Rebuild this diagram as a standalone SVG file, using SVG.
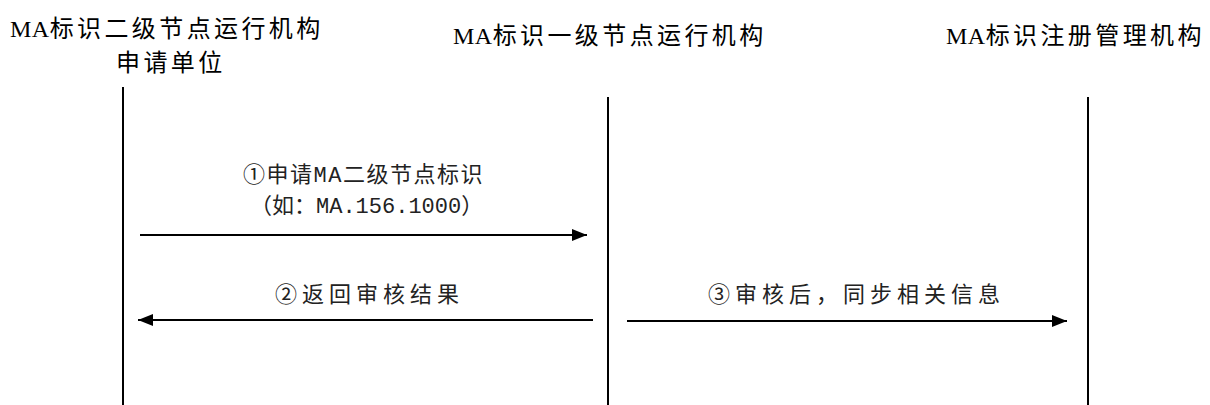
<svg xmlns="http://www.w3.org/2000/svg" width="1210" height="405" viewBox="0 0 1210 405">
  <style>
    .hdr { font-family: "Liberation Serif", "Noto Sans CJK SC", serif; font-size: 24px; letter-spacing: 3.4px; fill: #000; }
    .ma { letter-spacing: 0.5px; }
    .lbl { font-family: "Liberation Mono", "Noto Sans CJK SC", monospace; font-size: 22px; fill: #222; }
    .life { stroke: #000; stroke-width: 2; fill: none; }
    .msg { stroke: #000; stroke-width: 2; fill: none; marker-end: url(#arrow); }
  </style>
  <defs>
    <marker id="arrow" markerUnits="userSpaceOnUse" markerWidth="16" markerHeight="14" refX="15" refY="6" orient="auto">
      <path d="M0,0 L15,6 L0,12 z" fill="#000"/>
    </marker>
  </defs>
  <rect width="1210" height="405" fill="#fff"/>
  <g id="node-secondary">
    <text class="hdr" x="10" y="37"><tspan class="ma">MA</tspan>标识二级节点运行机构</text>
    <text class="hdr" x="116" y="71">申请单位</text>
    <line class="life" x1="123" y1="87" x2="123" y2="405"/>
  </g>
  <g id="node-primary">
    <text class="hdr" x="453" y="44"><tspan class="ma">MA</tspan>标识一级节点运行机构</text>
    <line class="life" x1="608" y1="97" x2="608" y2="405"/>
  </g>
  <g id="node-registry">
    <text class="hdr" x="946" y="44"><tspan class="ma">MA</tspan>标识注册管理机构</text>
    <line class="life" x1="1088" y1="97" x2="1088" y2="405"/>
  </g>
  <g id="connectors">
    <line class="msg" x1="140" y1="235" x2="587" y2="235"/>
    <line class="msg" x1="593" y1="320" x2="138" y2="320"/>
    <line class="msg" x1="627" y1="321" x2="1067" y2="321"/>
    <text class="lbl" x="243" y="182" style="letter-spacing:1.5px">①申请MA二级节点标识</text>
    <text class="lbl" x="250" y="213">（如：MA.156.1000）</text>
    <text class="lbl" x="275" y="302" style="letter-spacing:5px">②返回审核结果</text>
    <text class="lbl" x="708" y="302" style="letter-spacing:5px">③审核后，同步相关信息</text>
  </g>
</svg>
